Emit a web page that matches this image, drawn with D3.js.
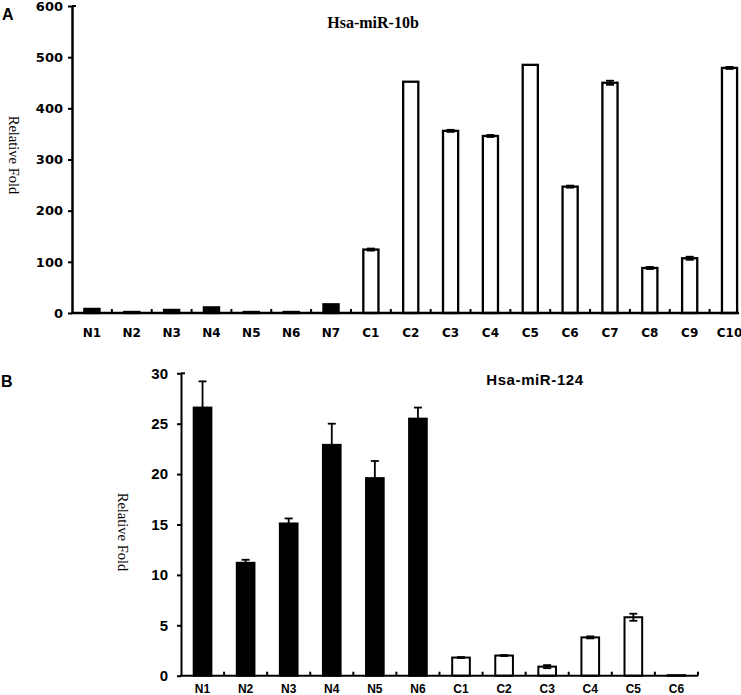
<!DOCTYPE html>
<html>
<head>
<meta charset="utf-8">
<script src="https://cdnjs.cloudflare.com/ajax/libs/d3/7.8.5/d3.min.js"></script>
<style>
  html, body { margin: 0; padding: 0; background: #fff; }
  svg { display: block; }
</style>
</head>
<body>
<svg id="chart" width="741" height="695"></svg>
<script>
// ---------- Panel A data: Hsa-miR-10b ----------
const catsA = ["N1","N2","N3","N4","N5","N6","N7","C1","C2","C3","C4","C5","C6","C7","C8","C9","C10"];
const valsA = [8, 2, 6, 11, 2, 2, 17, 124, 452, 356, 346, 485, 247, 450, 88, 107, 479];
const errsA = [0, 0, 0, 0, 0, 0, 0, 2, 0, 2, 2, 0, 2, 4, 2, 3, 2];
const ticksA = [0, 100, 200, 300, 400, 500, 600];

// ---------- Panel B data: Hsa-miR-124 ----------
const catsB = ["N1","N2","N3","N4","N5","N6","C1","C2","C3","C4","C5","C6"];
const valsB = [26.6, 11.2, 15.1, 22.9, 19.6, 25.5, 1.8, 2.0, 0.9, 3.8, 5.8, 0.05];
const errsB = [2.6, 0.3, 0.5, 2.1, 1.7, 1.1, 0.05, 0.05, 0.15, 0.1, 0.35, 0];
const ticksB = [0, 5, 10, 15, 20, 25, 30];

const svg = d3.select("#chart");

function panel(opt) {
  const g = svg.append("g");
  const x = d3.scaleBand().domain(opt.cats)
    .range([opt.x0, opt.x0 + opt.step * opt.cats.length])
    .paddingInner(opt.pad).paddingOuter(opt.pad / 2);
  const y = d3.scaleLinear().domain([0, opt.max]).range([opt.yBase, opt.yTop]);

  // bars
  g.selectAll("rect.bar").data(opt.cats).enter().append("rect")
    .attr("class", "bar")
    .attr("x", d => x(d))
    .attr("width", x.bandwidth())
    .attr("y", (d, i) => y(opt.vals[i]))
    .attr("height", (d, i) => y(0) - y(opt.vals[i]))
    .attr("fill", d => d[0] === "N" ? "#000" : "#fff")
    .attr("stroke", "#000")
    .attr("stroke-width", opt.barStroke);

  // error bars
  const cap = opt.cap;
  opt.cats.forEach((d, i) => {
    const e = opt.errs[i];
    if (!e) return;
    const cx = x(d) + x.bandwidth() / 2;
    const yt = y(opt.vals[i] + e), yb = y(Math.max(0, opt.vals[i] - e));
    g.append("line").attr("x1", cx).attr("x2", cx).attr("y1", yt).attr("y2", yb)
      .attr("stroke", "#000").attr("stroke-width", 1.8);
    g.append("line").attr("x1", cx - cap).attr("x2", cx + cap).attr("y1", yt).attr("y2", yt)
      .attr("stroke", "#000").attr("stroke-width", 1.8);
    if (d[0] !== "N") {
      g.append("line").attr("x1", cx - cap).attr("x2", cx + cap).attr("y1", yb).attr("y2", yb)
        .attr("stroke", "#000").attr("stroke-width", 1.8);
    }
  });

  // y axis
  const ya = g.append("g").attr("transform", `translate(${opt.x0},0)`)
    .call(d3.axisLeft(y).tickValues(opt.ticks).tickSize(4).tickSizeOuter(0).tickPadding(opt.tickPad));
  ya.select(".domain").attr("stroke-width", opt.axisW);
  ya.selectAll(".tick line").attr("stroke-width", 2);
  ya.selectAll(".tick text")
    .attr("font-family", opt.tickFont).attr("font-weight", "bold")
    .attr("font-size", opt.tickSizePx).attr("fill", "#000");
  // small inward tick at the top
  g.append("line").attr("x1", opt.x0).attr("x2", opt.x0 + 4)
    .attr("y1", y(opt.max)).attr("y2", y(opt.max))
    .attr("stroke", "#000").attr("stroke-width", 2);

  // x axis
  g.append("line").attr("x1", opt.x0 - 1).attr("x2", opt.xEnd)
    .attr("y1", y(0)).attr("y2", y(0)).attr("stroke", "#000").attr("stroke-width", opt.axisW);
  d3.range(1, opt.cats.length + 1).forEach(k => {
    const tx = opt.x0 + k * opt.step;
    if (tx > opt.xEnd + 1) return;
    g.append("line").attr("x1", tx).attr("x2", tx).attr("y1", y(0)).attr("y2", y(0) - 4)
      .attr("stroke", "#000").attr("stroke-width", 2);
  });
  g.selectAll("text.xl").data(opt.cats).enter().append("text")
    .attr("class", "xl")
    .attr("x", d => x(d) + x.bandwidth() / 2)
    .attr("y", opt.xLabelY)
    .attr("text-anchor", "middle")
    .attr("font-family", opt.xFont).attr("font-weight", "bold")
    .attr("font-size", opt.xSizePx).attr("fill", "#000")
    .text(d => d);

  // title
  g.append("text").attr("x", opt.titleX).attr("y", opt.titleY)
    .attr("text-anchor", "middle")
    .attr("font-family", opt.titleFont).attr("font-weight", "bold")
    .attr("font-size", opt.titleSize).attr("letter-spacing", opt.titleLS)
    .attr("fill", "#000").text(opt.title);

  // y label
  g.append("text")
    .attr("transform", `translate(${opt.yLabX},${opt.yLabY}) rotate(90)`)
    .attr("text-anchor", "middle")
    .attr("font-family", "'Liberation Serif', 'Times New Roman', serif")
    .attr("font-size", 14.5).attr("fill", "#000")
    .text("Relative Fold");

  // panel letter
  g.append("text").attr("x", opt.letterX).attr("y", opt.letterY)
    .attr("font-family", "'Liberation Sans', Arial, sans-serif").attr("font-weight", "bold")
    .attr("font-size", 16).attr("fill", "#000").text(opt.letter);
}

panel({
  cats: catsA, vals: valsA, errs: errsA, ticks: ticksA, max: 600,
  x0: 72, step: 39.85, pad: 0.62, xEnd: 739,
  yBase: 313, yTop: 6, axisW: 2.5, barStroke: 2.3, cap: 4,
  tickFont: "'DejaVu Sans', sans-serif", tickSizePx: 13, tickPad: 5,
  xFont: "'DejaVu Sans', sans-serif", xSizePx: 12, xLabelY: 337,
  title: "Hsa-miR-10b", titleX: 373, titleY: 28,
  titleFont: "'Liberation Serif', 'Times New Roman', serif", titleSize: 16, titleLS: 0,
  yLabX: 9, yLabY: 155, letter: "A", letterX: 2, letterY: 20
});

panel({
  cats: catsB, vals: valsB, errs: errsB, ticks: ticksB, max: 30,
  x0: 181, step: 43.08, pad: 0.59, xEnd: 698,
  yBase: 675.7, yTop: 373.3, axisW: 2, barStroke: 2, cap: 4,
  tickFont: "'Liberation Sans', Arial, sans-serif", tickSizePx: 15, tickPad: 9,
  xFont: "'Liberation Sans', Arial, sans-serif", xSizePx: 12, xLabelY: 693,
  title: "Hsa-miR-124", titleX: 535, titleY: 385,
  titleFont: "'Liberation Sans', Arial, sans-serif", titleSize: 15, titleLS: 0.6,
  yLabX: 118, yLabY: 532, letter: "B", letterX: 1, letterY: 387
});
</script>
</body>
</html>
